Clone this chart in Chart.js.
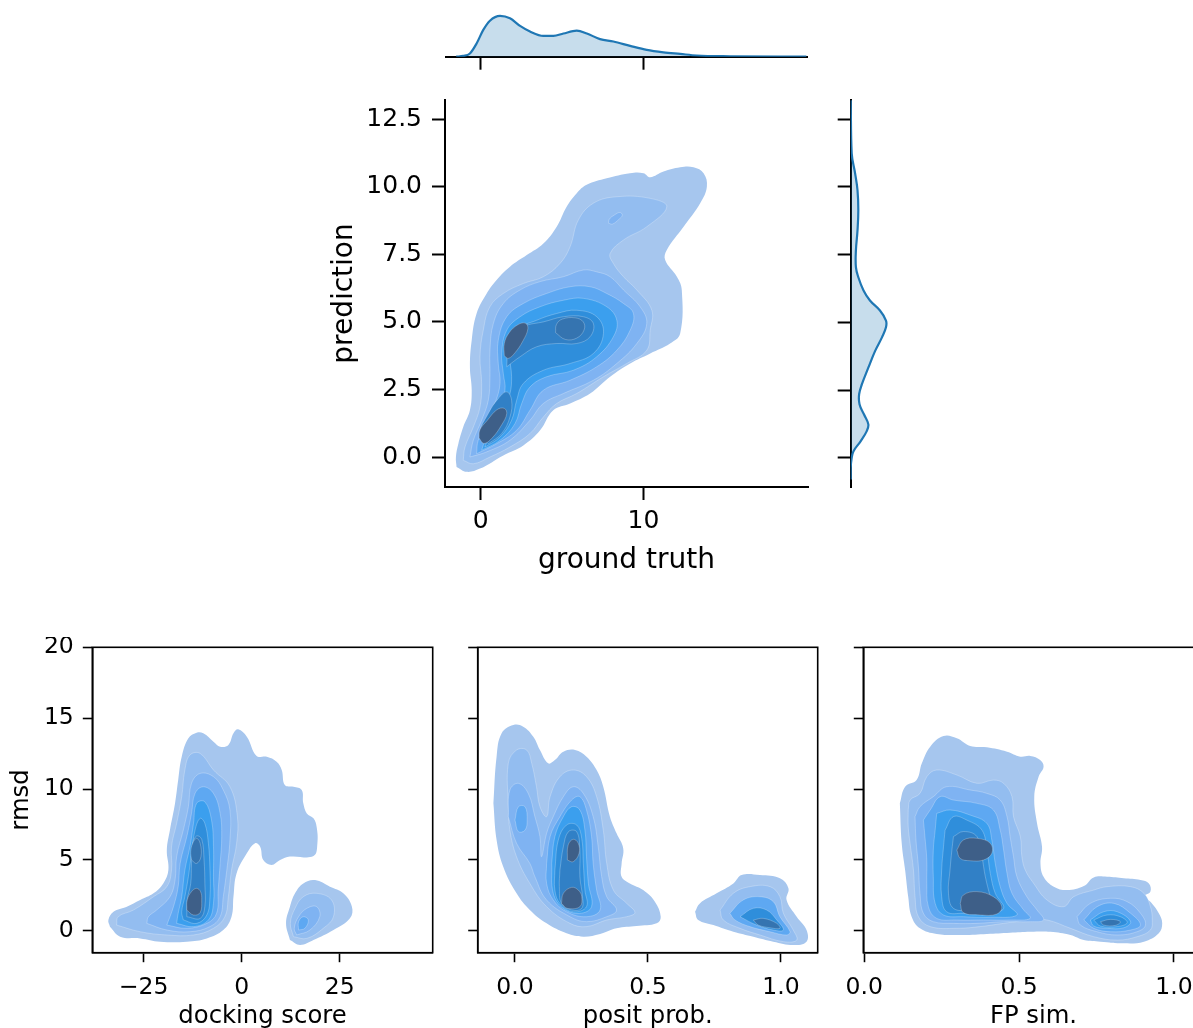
<!DOCTYPE html>
<html>
<head>
<meta charset="utf-8">
<script src="https://cdn.jsdelivr.net/npm/chart.js@4.4.1/dist/chart.umd.min.js"></script>
<style>
  html, body { margin: 0; padding: 0; background: #fff; overflow: hidden; width: 1193px; height: 1028px; }
  canvas { position: absolute; }
</style>
</head>
<body>
<canvas id="topMargin" width="363" height="65" style="left:445px;top:8px"></canvas>
<canvas id="joint" width="488" height="489" style="left:325px;top:90px"></canvas>
<canvas id="rightMargin" width="60" height="398" style="left:836px;top:90px"></canvas>
<canvas id="dock" width="436" height="396" style="left:0px;top:637px"></canvas>
<canvas id="posit" width="354" height="396" style="left:467px;top:637px"></canvas>
<canvas id="sim" width="384" height="396" style="left:823px;top:637px"></canvas>
<script>
// ---- tick labels ----
const gtTicks = [0, 10];
const predTicks = [0, 2.5, 5, 7.5, 10, 12.5];
const rmsdTicks = [0, 5, 10, 15, 20];
const dockTicks = [-25, 0, 25];
const positTicks = [0, 0.5, 1];
const simTicks = [0, 0.5, 1];

// ---- marginal densities ----
const gtGrid = [-1.5, -1.07, -0.66, -0.25, 0.16, 0.57, 1.19, 1.80, 2.42, 3.03, 3.85, 4.47, 5.08, 5.90, 6.52, 7.33, 8.15, 9.18, 10.20, 11.22, 12.25, 13.27, 15.32, 20.0];
const gtDensity = [0, 0.002, 0.008, 0.033, 0.067, 0.090, 0.102, 0.096, 0.077, 0.063, 0.052, 0.052, 0.058, 0.065, 0.058, 0.044, 0.038, 0.027, 0.017, 0.011, 0.007, 0.003, 0.001, 0];
const predGrid = [13.2, 11.24, 10.50, 9.88, 9.14, 8.40, 7.66, 7.04, 6.67, 6.18, 5.81, 5.44, 5.07, 4.82, 4.45, 3.95, 3.33, 2.72, 2.35, 1.98, 1.61, 1.24, 0.99, 0.62, 0.25, 0, -0.37, -0.8];
const predDensity = [0, 0.0025, 0.011, 0.017, 0.019, 0.017, 0.013, 0.013, 0.019, 0.032, 0.048, 0.073, 0.088, 0.088, 0.078, 0.061, 0.044, 0.028, 0.021, 0.022, 0.033, 0.044, 0.040, 0.025, 0.007, 0.0025, 0, 0];

// ---- joint KDE contours (ground truth vs prediction) ----
const jointL0 = [[-1.48,-0.37],[-0.86,-0.55],[-0.04,-0.43],[1.39,0.06],[2.62,0.43],[3.65,0.99],[4.46,1.73],[5.49,1.98],[6.72,2.35],[7.95,2.97],[9.18,3.46],[10.41,3.83],[11.63,4.20],[12.25,4.57],[12.35,6.18],[12.05,6.67],[11.33,7.29],[11.43,7.66],[12.46,8.52],[13.48,9.39],[13.89,10.00],[13.69,10.50],[13.07,10.72],[12.25,10.72],[11.23,10.56],[10.41,10.35],[10.00,10.50],[9.17,10.50],[7.74,10.31],[6.51,10.07],[5.90,9.76],[5.28,9.26],[4.67,8.52],[3.85,7.90],[2.83,7.47],[1.80,7.04],[0.98,6.55],[0.37,6.05],[-0.25,5.31],[-0.55,4.32],[-0.66,3.34],[-0.55,2.47],[-0.66,1.73],[-1.07,1.11],[-1.37,0.49],[-1.52,0.00]];
const jointL1 = [[-1.07,-0.12],[-0.45,-0.25],[0.57,0.00],[1.80,0.37],[3.03,0.87],[3.85,1.48],[4.67,1.98],[5.90,2.35],[7.54,2.97],[8.97,3.46],[10.20,3.95],[10.41,4.69],[10.51,5.43],[9.59,6.18],[8.77,6.67],[8.15,7.16],[7.95,7.53],[8.77,8.03],[10.20,8.52],[11.43,9.26],[10.41,9.57],[8.36,9.63],[6.92,9.39],[6.00,8.77],[5.49,7.78],[4.87,7.16],[3.85,6.67],[2.62,6.42],[1.39,6.05],[0.57,5.56],[0.16,4.69],[-0.04,3.71],[0.06,2.72],[-0.04,1.85],[-0.45,1.11],[-0.96,0.37]];
const jointSpot = [[7.85,8.65],[8.1,8.62],[8.5,8.8],[8.7,8.95],[8.55,9.05],[8.2,8.95],[7.9,8.8]];
const jointL2 = [[-0.66,0.00],[0.37,0.19],[1.80,0.62],[3.03,1.36],[3.85,1.98],[5.08,2.35],[6.92,2.84],[8.36,3.46],[9.59,4.20],[10.20,4.94],[9.79,5.56],[8.77,6.18],[7.95,6.67],[7.13,6.85],[6.31,6.92],[5.08,6.67],[3.65,6.49],[2.42,6.18],[1.39,5.68],[0.78,4.94],[0.57,3.95],[0.57,2.97],[0.47,2.10],[0.06,1.36],[-0.45,0.62]];
const jointL3 = [[-0.25,0.12],[0.98,0.49],[2.21,0.99],[3.03,1.73],[3.85,2.47],[5.49,2.84],[7.13,3.34],[8.36,3.95],[9.18,4.69],[9.38,5.31],[8.77,5.68],[7.74,6.05],[6.72,6.30],[5.49,6.30],[4.05,6.05],[2.62,5.68],[1.60,5.19],[1.08,4.32],[1.08,3.46],[1.19,2.72],[0.88,1.98],[0.37,1.24],[-0.15,0.62]];
const jointL4 = [[0.06,0.25],[1.19,0.62],[2.11,1.24],[2.52,1.98],[3.03,2.59],[4.05,2.97],[5.69,3.21],[7.13,3.71],[8.15,4.45],[8.36,5.06],[7.74,5.56],[6.31,5.87],[5.08,5.80],[3.65,5.56],[2.42,5.19],[1.60,4.69],[1.29,3.83],[1.39,3.09],[1.49,2.47],[1.08,1.73],[0.47,0.99]];
const jointL5 = [[0.26,0.37],[1.19,0.74],[1.90,1.36],[2.21,2.10],[2.62,2.72],[3.85,3.21],[5.49,3.46],[6.92,3.83],[7.54,4.57],[7.13,5.19],[5.90,5.43],[4.67,5.31],[3.44,5.06],[2.21,4.69],[1.80,3.83],[1.90,2.97],[1.80,2.35],[1.39,1.73],[0.67,0.99]];
const jointL6Upper = [[1.60,3.34],[2.42,3.71],[3.44,4.08],[4.67,4.20],[5.90,4.20],[6.72,4.45],[6.92,4.94],[6.31,5.19],[5.08,5.19],[3.85,5.00],[2.83,4.88],[2.11,4.69],[1.70,4.08]];
const jointL6Lower = [[0.47,0.49],[1.29,0.87],[1.80,1.48],[1.90,2.10],[1.60,2.41],[1.08,2.16],[0.47,1.61],[-0.04,0.87]];
const jointCoreRight = [[4.6,4.6],[5.2,4.35],[5.9,4.4],[6.35,4.7],[6.3,5.0],[5.8,5.15],[5.0,5.1],[4.65,4.9]];
const jointCoreUpper = [[1.45,3.75],[1.7,3.65],[2.1,3.85],[2.6,4.3],[2.9,4.75],[2.75,4.95],[2.3,4.9],[1.75,4.6],[1.45,4.2]];
const jointCoreLower = [[-0.1,0.7],[0.2,0.5],[0.7,0.7],[1.3,1.2],[1.6,1.6],[1.45,1.8],[1.0,1.75],[0.4,1.35],[-0.05,1.0]];

// ---- docking score vs rmsd ----
const dockL0 = [[-33.6,0.28],[-31.0,-0.42],[-25.9,-0.54],[-20.8,-0.77],[-14.0,-0.77],[-8.9,-0.54],[-4.7,0.05],[-2.6,0.99],[-2.1,2.41],[-1.3,4.05],[1.3,5.46],[3.4,6.17],[4.7,5.93],[5.5,4.99],[7.6,4.64],[9.8,4.99],[12.3,5.23],[18.3,5.27],[19.3,6.17],[19.1,7.34],[18.3,7.93],[16.6,8.28],[15.7,8.99],[15.3,9.93],[13.2,10.16],[11.0,10.28],[10.2,11.34],[8.9,11.93],[6.4,12.28],[3.8,12.33],[1.3,13.69],[-0.9,14.21],[-2.1,13.93],[-3.4,13.11],[-5.5,12.99],[-7.2,13.34],[-9.8,13.93],[-11.5,13.97],[-13.6,13.58],[-15.3,12.28],[-16.2,10.63],[-17.0,8.99],[-18.3,7.10],[-19.1,5.69],[-18.7,4.28],[-20.0,3.34],[-22.5,2.64],[-25.9,2.17],[-29.3,1.70],[-32.7,1.34],[-34.0,0.75]];
const dockL1 = [[-31.9,0.40],[-25.9,-0.07],[-19.1,-0.30],[-12.3,-0.30],[-7.2,0.17],[-4.3,0.99],[-3.4,2.40],[-2.6,4.28],[-1.3,6.17],[-1.1,8.05],[-3.0,10.16],[-7.2,11.34],[-10.6,12.51],[-13.2,12.40],[-14.5,11.34],[-15.3,9.46],[-16.6,7.57],[-17.9,5.93],[-17.9,4.28],[-19.1,3.11],[-22.5,2.40],[-27.6,1.46],[-31.5,0.99]];
const dockL2 = [[-24.2,0.52],[-19.1,0.05],[-13.2,-0.07],[-8.1,0.29],[-5.5,0.99],[-4.7,2.40],[-3.8,4.28],[-3.0,6.40],[-3.0,8.52],[-4.7,9.93],[-7.2,10.87],[-10.6,11.10],[-12.8,10.40],[-13.6,8.75],[-14.9,7.10],[-16.6,5.22],[-17.0,3.58],[-18.3,2.40],[-21.7,1.46],[-23.8,0.99]];
const dockL3 = [[-19.1,0.40],[-14.0,0.17],[-8.9,0.52],[-6.4,1.23],[-6.0,2.87],[-5.5,4.75],[-5.1,6.64],[-5.5,8.28],[-7.2,9.69],[-9.8,10.16],[-11.9,9.69],[-12.8,8.28],[-14.0,6.64],[-15.7,4.75],[-16.2,3.11],[-17.4,1.70]];
const dockL4 = [[-16.6,0.52],[-12.3,0.29],[-8.5,0.76],[-7.2,1.93],[-7.2,3.81],[-7.2,5.93],[-7.7,7.81],[-9.4,9.10],[-11.5,8.99],[-12.3,7.57],[-13.2,5.93],[-14.5,4.28],[-15.3,2.40],[-16.2,1.23]];
const dockL5 = [[-14.9,0.76],[-11.5,0.52],[-8.9,1.11],[-8.1,2.40],[-8.1,4.28],[-8.5,6.17],[-9.4,7.57],[-10.6,7.93],[-11.9,7.10],[-12.8,5.46],[-13.6,3.81],[-14.5,2.40],[-15.3,1.34]];
const dockL6 = [[-14.0,0.99],[-10.6,0.87],[-9.4,1.70],[-9.4,3.34],[-9.6,4.96],[-10.2,6.45],[-11.5,6.69],[-12.5,6.10],[-12.8,4.75],[-13.0,3.34],[-13.9,2.17]];
const dockCoreUpper = [[-12.8,4.99],[-11.5,4.75],[-10.4,5.22],[-10.6,6.17],[-11.5,6.52],[-12.5,6.17],[-13.0,5.58]];
const dockCoreLower = [[-14.0,1.46],[-12.3,1.11],[-10.6,1.28],[-10.2,2.17],[-10.5,2.76],[-11.5,2.99],[-12.8,2.76],[-13.9,2.17]];
const dockSideL0 = [[12.3,-0.66],[14.9,-1.01],[18.3,-0.66],[23.4,0.05],[27.6,0.88],[28.1,1.70],[25.9,2.64],[22.5,3.11],[18.7,3.58],[15.7,3.34],[13.6,2.64],[12.3,1.70],[11.3,0.52]];
const dockSideL1 = [[13.2,-0.42],[16.6,-0.54],[20.8,0.17],[23.4,0.99],[22.9,2.17],[19.1,2.64],[15.7,2.40],[13.6,1.58],[12.4,0.52]];
const dockSideL2 = [[14.0,-0.30],[17.4,0.05],[19.9,0.99],[19.1,1.70],[16.6,1.58],[14.5,0.99],[13.4,0.17]];
const dockSideL3 = [[14.5,0.05],[16.1,0.17],[17.0,0.76],[15.7,0.99],[14.5,0.64]];

// ---- posit prob. vs rmsd ----
const positL0 = [[-0.081,8.99],[-0.069,12.28],[-0.050,13.93],[-0.006,14.51],[0.031,14.40],[0.069,13.69],[0.094,12.75],[0.125,11.81],[0.150,12.04],[0.182,12.63],[0.226,12.75],[0.269,12.28],[0.307,11.34],[0.332,10.16],[0.357,8.05],[0.382,6.87],[0.407,5.81],[0.401,4.75],[0.401,3.81],[0.432,3.34],[0.482,2.87],[0.526,2.05],[0.548,0.99],[0.533,0.52],[0.457,0.33],[0.382,0.17],[0.320,-0.23],[0.257,-0.42],[0.194,-0.18],[0.119,0.52],[0.056,1.46],[0.006,2.64],[-0.044,4.52],[-0.069,6.40]];
const positL1 = [[-0.025,8.75],[-0.025,11.81],[0.006,12.75],[0.044,12.75],[0.063,11.81],[0.081,10.16],[0.094,8.75],[0.119,8.05],[0.132,9.46],[0.169,10.87],[0.219,11.34],[0.269,10.87],[0.307,9.46],[0.332,7.10],[0.345,4.75],[0.370,2.87],[0.420,1.93],[0.451,1.28],[0.420,0.99],[0.345,0.76],[0.269,0.29],[0.207,0.52],[0.119,1.70],[0.056,3.34],[0.006,5.22],[-0.019,7.10]];
const positL2 = [[-0.025,8.05],[-0.019,9.93],[0.013,10.40],[0.050,9.69],[0.075,8.05],[0.094,6.64],[0.100,5.22],[0.119,6.87],[0.144,8.05],[0.182,9.46],[0.219,10.16],[0.257,9.69],[0.294,8.05],[0.313,5.93],[0.326,3.81],[0.345,2.40],[0.382,1.46],[0.345,0.99],[0.269,0.64],[0.207,0.99],[0.119,2.17],[0.075,3.81],[0.056,4.75],[0.006,6.17]];
const positSpot = [[0.000,7.81],[0.013,8.75],[0.038,8.75],[0.046,7.81],[0.038,7.10],[0.013,6.99]];
const positL3 = [[0.119,4.75],[0.132,6.64],[0.169,8.05],[0.213,9.22],[0.244,9.46],[0.269,8.52],[0.288,6.64],[0.294,4.75],[0.307,2.87],[0.320,1.46],[0.269,0.99],[0.194,1.34],[0.144,2.17],[0.119,3.34]];
const positL4 = [[0.138,4.75],[0.150,6.64],[0.182,8.05],[0.213,8.75],[0.244,8.52],[0.263,7.10],[0.269,5.22],[0.276,3.34],[0.288,1.70],[0.244,1.23],[0.182,1.58],[0.144,2.64]];
const positL5 = [[0.150,4.28],[0.163,6.40],[0.194,7.46],[0.232,7.46],[0.251,6.52],[0.257,4.75],[0.263,2.87],[0.269,1.70],[0.219,1.34],[0.169,1.93],[0.150,2.87]];
const positL6 = [[0.169,4.28],[0.182,5.93],[0.201,6.99],[0.232,6.99],[0.244,5.69],[0.244,3.81],[0.254,2.40],[0.251,1.58],[0.213,1.46],[0.175,1.93],[0.167,3.11]];
const positCoreUpper = [[0.197,4.99],[0.219,4.87],[0.241,5.46],[0.238,6.17],[0.219,6.45],[0.200,6.05]];
const positCoreLower = [[0.175,1.93],[0.197,1.58],[0.244,1.70],[0.251,2.40],[0.238,2.87],[0.213,3.06],[0.182,2.64]];
const positSideL0 = [[0.677,1.34],[0.695,1.93],[0.758,2.64],[0.821,3.34],[0.852,3.93],[0.921,3.93],[0.996,3.70],[1.028,2.99],[1.021,2.17],[1.059,0.99],[1.096,0.05],[1.096,-0.77],[1.046,-1.01],[0.971,-0.77],[0.896,-0.42],[0.821,-0.07],[0.746,0.40],[0.689,0.76]];
const positSideL1 = [[0.771,1.46],[0.821,2.64],[0.883,3.11],[0.959,3.11],[0.996,2.40],[1.009,1.23],[1.046,0.05],[1.059,-0.66],[1.009,-0.77],[0.921,-0.30],[0.846,0.17],[0.783,0.76]];
const positSideL3 = [[0.808,1.23],[0.858,2.17],[0.921,2.40],[0.971,2.05],[0.996,0.99],[1.034,-0.07],[1.021,-0.30],[0.959,-0.07],[0.883,0.29],[0.827,0.76]];
const positSideL5 = [[0.846,0.99],[0.896,1.58],[0.946,1.46],[0.984,0.76],[1.009,0.05],[0.971,0.05],[0.908,0.40]];
const positSideCore = [[0.896,0.76],[0.934,0.87],[0.984,0.52],[0.996,0.17],[0.959,0.21],[0.915,0.40]];

// ---- FP sim. vs rmsd ----
const simL0 = [[0.115,8.99],[0.132,10.16],[0.169,10.63],[0.186,11.81],[0.213,12.99],[0.256,13.74],[0.299,13.58],[0.342,13.04],[0.396,12.94],[0.461,12.63],[0.504,12.28],[0.536,12.33],[0.568,12.04],[0.579,11.57],[0.563,10.87],[0.549,9.46],[0.558,7.57],[0.574,5.93],[0.569,4.75],[0.579,3.81],[0.612,3.11],[0.655,2.87],[0.709,3.15],[0.741,3.76],[0.784,3.81],[0.838,3.70],[0.892,3.58],[0.919,3.34],[0.924,2.76],[0.903,2.40],[0.924,2.05],[0.951,1.23],[0.962,0.52],[0.951,-0.18],[0.903,-0.77],[0.838,-0.89],[0.763,-0.77],[0.709,-0.66],[0.666,-0.30],[0.601,-0.07],[0.536,-0.07],[0.471,-0.14],[0.396,-0.23],[0.320,-0.30],[0.234,-0.23],[0.180,0.17],[0.153,0.99],[0.142,2.40],[0.132,4.28],[0.121,6.17]];
const simL1 = [[0.142,8.52],[0.148,9.22],[0.180,9.69],[0.202,10.87],[0.234,11.34],[0.299,10.99],[0.364,10.40],[0.417,10.63],[0.450,10.40],[0.477,9.46],[0.482,8.05],[0.504,6.64],[0.509,5.22],[0.520,4.28],[0.547,3.34],[0.590,2.17],[0.644,1.70],[0.676,2.40],[0.741,2.87],[0.784,3.11],[0.860,3.11],[0.903,2.64],[0.924,1.70],[0.930,0.76],[0.924,0.05],[0.881,-0.42],[0.817,-0.66],[0.741,-0.42],[0.666,0.17],[0.590,0.76],[0.536,0.76],[0.450,0.52],[0.374,0.29],[0.299,0.17],[0.213,0.29],[0.175,0.99],[0.164,2.40],[0.159,4.28],[0.148,6.17],[0.142,7.34]];
const simL2 = [[0.164,8.05],[0.180,8.75],[0.223,9.46],[0.266,10.16],[0.342,9.93],[0.396,9.69],[0.439,9.22],[0.461,8.05],[0.471,6.64],[0.482,5.22],[0.493,3.81],[0.525,2.40],[0.558,1.46],[0.579,0.76],[0.536,0.64],[0.450,0.64],[0.364,0.52],[0.288,0.52],[0.223,0.64],[0.191,1.23],[0.180,2.64],[0.175,4.52],[0.167,6.40]];
const simL3 = [[0.191,7.81],[0.213,8.52],[0.245,9.46],[0.288,9.22],[0.364,8.99],[0.417,8.52],[0.439,7.10],[0.450,5.69],[0.461,4.05],[0.477,2.64],[0.515,1.46],[0.536,0.87],[0.471,0.76],[0.385,0.76],[0.299,0.76],[0.234,0.87],[0.207,1.70],[0.202,3.34],[0.202,4.99],[0.196,6.64]];
const simL4 = [[0.234,8.28],[0.277,8.52],[0.342,8.16],[0.396,7.57],[0.412,6.40],[0.423,4.75],[0.439,3.11],[0.461,1.93],[0.493,1.11],[0.407,0.95],[0.320,0.99],[0.256,1.11],[0.229,1.93],[0.223,3.81],[0.223,5.69],[0.229,7.10]];
const simL5 = [[0.261,7.10],[0.288,8.05],[0.331,7.81],[0.380,7.10],[0.396,5.69],[0.407,4.05],[0.423,2.64],[0.450,1.58],[0.396,1.23],[0.320,1.23],[0.266,1.34],[0.250,2.40],[0.250,4.28],[0.256,5.93]];
const simL6 = [[0.288,6.64],[0.320,7.00],[0.364,6.64],[0.380,5.22],[0.391,3.81],[0.407,2.40],[0.417,1.70],[0.342,1.46],[0.288,1.58],[0.272,2.64],[0.277,4.28],[0.283,5.69]];
const simCoreUpper = [[0.299,5.69],[0.320,6.40],[0.364,6.52],[0.407,6.17],[0.412,5.46],[0.385,4.99],[0.342,4.94],[0.310,5.10]];
const simCoreLower = [[0.310,1.93],[0.320,2.52],[0.364,2.76],[0.417,2.40],[0.444,1.70],[0.428,1.18],[0.374,1.11],[0.320,1.28]];
const simSideL2 = [[0.687,0.99],[0.730,1.93],[0.795,2.29],[0.849,2.05],[0.892,1.23],[0.908,0.40],[0.881,-0.07],[0.817,-0.30],[0.752,-0.07],[0.698,0.40]];
const simSideL3 = [[0.709,0.76],[0.752,1.70],[0.806,1.93],[0.860,1.23],[0.892,0.40],[0.860,0.05],[0.795,-0.07],[0.741,0.17]];
const simSideL4 = [[0.730,0.76],[0.773,1.34],[0.817,1.34],[0.860,0.64],[0.838,0.21],[0.784,0.17],[0.741,0.33]];
const simSideL5 = [[0.741,0.76],[0.784,1.11],[0.827,0.99],[0.849,0.57],[0.817,0.29],[0.763,0.33]];
const simSideCore = [[0.763,0.64],[0.795,0.80],[0.827,0.64],[0.811,0.38],[0.773,0.40]];

// level index -> fill colour (light = low density, dark = high)
const levelColors = ['#a6c6ee', '#93bdf0', '#7fb3f2', '#5ea8f2', '#3b9fee', '#2f8edb', '#3180c6', '#3574b0', '#3e5f88'];

Chart.defaults.font.family = "'DejaVu Sans', sans-serif";
Chart.defaults.color = '#000';

const fixedTicks = (list) => (axis) => { axis.ticks = list.map(v => ({ value: v })); };

// fix an axis box size and drop the label overflow padding chart.js reserves
const fixWidth = (w) => (a) => { a.width = w; a.paddingTop = 0; a.paddingBottom = 0; };
const fixHeight = (h) => (a) => { a.height = h; a.paddingLeft = 0; a.paddingRight = 0; };

function contourSets(list) {
    return list.map(([level, pts]) => ({
        data: pts.concat([pts[0]]).map(([x, y]) => ({ x, y })),
        showLine: true,
        fill: 'shape',
        backgroundColor: levelColors[level],
        borderColor: level ? 'rgba(255,255,255,0.35)' : 'rgba(0,0,0,0)',
        borderWidth: 0.7,
        pointRadius: 0,
        tension: 0.4,
        order: 20 - level
    }));
}

const framePlugin = {
    id: 'frame',
    afterDatasetsDraw(chart) {
        const { ctx, chartArea: a } = chart;
        ctx.save();
        ctx.strokeStyle = '#000';
        ctx.lineWidth = 1.6;
        ctx.strokeRect(a.left, a.top, a.right - a.left, a.bottom - a.top);
        ctx.restore();
    }
};

const baseOptions = {
    responsive: false,
    animation: false,
    events: [],
    devicePixelRatio: 1,
    plugins: { legend: { display: false }, tooltip: { enabled: false } }
};

// ---- top marginal ----
new Chart(document.getElementById('topMargin'), {
    type: 'scatter',
    data: {
        datasets: [{
            data: gtGrid.map((x, i) => ({ x, y: gtDensity[i] })),
            showLine: true,
            fill: 'origin',
            backgroundColor: 'rgba(31,119,180,0.25)',
            borderColor: '#1f77b4',
            borderWidth: 2.2,
            pointRadius: 0,
            cubicInterpolationMode: 'monotone'
        }]
    },
    options: {
        ...baseOptions,
        layout: { padding: 0 },
        scales: {
            x: {
                type: 'linear', min: -2.19, max: 20.1,
                afterBuildTicks: fixedTicks(gtTicks),
                afterFit: fixHeight(16.3),
                grid: { drawOnChartArea: false, tickLength: 13, tickWidth: 2, tickColor: '#000' },
                border: { color: '#000', width: 2 },
                ticks: { color: 'rgba(0,0,0,0)', font: { size: 8 }, autoSkip: false, maxRotation: 0 }
            },
            y: { display: false, min: 0, max: 0.1218 }
        }
    }
});

// ---- joint plot ----
new Chart(document.getElementById('joint'), {
    type: 'scatter',
    data: {
        datasets: contourSets([
            [0, jointL0], [1, jointL1], [2, jointL2], [2, jointSpot], [3, jointL3], [4, jointL4],
            [5, jointL5], [6, jointL6Upper], [6, jointL6Lower], [7, jointCoreRight],
            [8, jointCoreUpper], [8, jointCoreLower]
        ])
    },
    options: {
        ...baseOptions,
        layout: { padding: { top: 10, right: 5 } },
        scales: {
            x: {
                type: 'linear', min: -2.19, max: 20.1,
                afterBuildTicks: fixedTicks(gtTicks),
                afterFit: fixHeight(92),
                grid: { drawOnChartArea: false, tickLength: 13, tickWidth: 2, tickColor: '#000' },
                border: { color: '#000', width: 2 },
                ticks: { font: { size: 25 }, padding: 6.5, autoSkip: false, maxRotation: 0, callback: (v) => String(v) },
                title: { display: true, text: 'ground truth', font: { size: 28 }, padding: { top: 0, bottom: 1 } }
            },
            y: {
                type: 'linear', min: -1.11, max: 13.21,
                afterBuildTicks: fixedTicks(predTicks),
                afterFit: fixWidth(120),
                grid: { drawOnChartArea: false, tickLength: 13, tickWidth: 2, tickColor: '#000' },
                border: { color: '#000', width: 2 },
                ticks: { font: { size: 25 }, padding: 10, autoSkip: false, callback: (v) => v.toFixed(1) },
                title: { display: true, text: 'prediction', font: { size: 28 }, padding: { top: 3, bottom: 0 } }
            }
        }
    }
});

// ---- right marginal ----
new Chart(document.getElementById('rightMargin'), {
    type: 'scatter',
    data: {
        datasets: [{
            data: predGrid.map((y, i) => ({ x: predDensity[i], y })),
            showLine: true,
            fill: 'shape',
            backgroundColor: 'rgba(31,119,180,0.25)',
            borderColor: '#1f77b4',
            borderWidth: 2.2,
            pointRadius: 0,
            tension: 0.4
        }]
    },
    options: {
        ...baseOptions,
        layout: { padding: { top: 10 } },
        scales: {
            x: { display: false, min: 0, max: 0.113 },
            y: {
                type: 'linear', min: -1.11, max: 13.21,
                afterBuildTicks: fixedTicks(predTicks),
                afterFit: fixWidth(14.7),
                grid: { drawOnChartArea: false, tickLength: 13, tickWidth: 2, tickColor: '#000' },
                border: { color: '#000', width: 2 },
                ticks: { color: 'rgba(0,0,0,0)', font: { size: 8 }, padding: 0, autoSkip: false }
            }
        }
    }
});

// ---- bottom row ----
function bottomPanel(id, sets, xMin, xMax, xTicks, xLabel, xFmt, showY, yWidth) {
    new Chart(document.getElementById(id), {
        type: 'scatter',
        data: { datasets: contourSets(sets) },
        options: {
            ...baseOptions,
            layout: { padding: { top: 10.3, right: 3.3 } },
            scales: {
                x: {
                    type: 'linear', min: xMin, max: xMax,
                    afterBuildTicks: fixedTicks(xTicks),
                    afterFit: fixHeight(80.3),
                    grid: { drawOnChartArea: false, tickLength: 9.5, tickWidth: 1.6, tickColor: '#000' },
                    border: { color: '#000', width: 1.6 },
                    ticks: { font: { size: 23.5 }, padding: 12, autoSkip: false, maxRotation: 0, callback: xFmt },
                    title: { display: true, text: xLabel, font: { size: 24.3 }, padding: { top: 0, bottom: 1.8 } }
                },
                y: {
                    type: 'linear', min: -1.55, max: 20,
                    afterBuildTicks: fixedTicks(rmsdTicks),
                    afterFit: fixWidth(yWidth),
                    grid: { drawOnChartArea: false, tickLength: 9.5, tickWidth: 1.6, tickColor: '#000' },
                    border: { color: '#000', width: 1.6 },
                    ticks: showY
                        ? { font: { size: 23.5 }, padding: 9, autoSkip: false, callback: (v) => String(v) }
                        : { color: 'rgba(0,0,0,0)', font: { size: 8 }, padding: 0, autoSkip: false },
                    title: { display: showY, text: 'rmsd', font: { size: 24.3 }, padding: { top: 7, bottom: 0 } }
                }
            }
        },
        plugins: [framePlugin]
    });
}

bottomPanel('dock', [
    [0, dockL0], [0, dockSideL0], [1, dockL1], [1, dockSideL1], [2, dockL2], [2, dockSideL2],
    [3, dockL3], [3, dockSideL3], [4, dockL4], [5, dockL5], [6, dockL6],
    [7, dockCoreUpper], [8, dockCoreLower]
], -38.1, 48.7, dockTicks, 'docking score', (v) => (v < 0 ? '\u2212' + Math.abs(v) : String(v)), true, 92.3);

bottomPanel('posit', [
    [0, positL0], [0, positSideL0], [1, positL1], [1, positSideL1], [2, positL2], [3, positSpot],
    [3, positL3], [3, positSideL3], [4, positL4], [5, positL5], [5, positSideL5], [6, positL6],
    [7, positSideCore], [8, positCoreUpper], [8, positCoreLower]
], -0.14, 1.138, positTicks, 'posit prob.', (v) => v.toFixed(1), false, 10.7);

bottomPanel('sim', [
    [0, simL0], [1, simL1], [2, simL2], [2, simSideL2], [3, simL3], [3, simSideL3],
    [4, simL4], [4, simSideL4], [5, simL5], [5, simSideL5], [6, simL6],
    [7, simSideCore], [8, simCoreUpper], [8, simCoreLower]
], -0.003, 1.096, simTicks, 'FP sim.', (v) => v.toFixed(1), false, 40.3);
</script>
</body>
</html>
